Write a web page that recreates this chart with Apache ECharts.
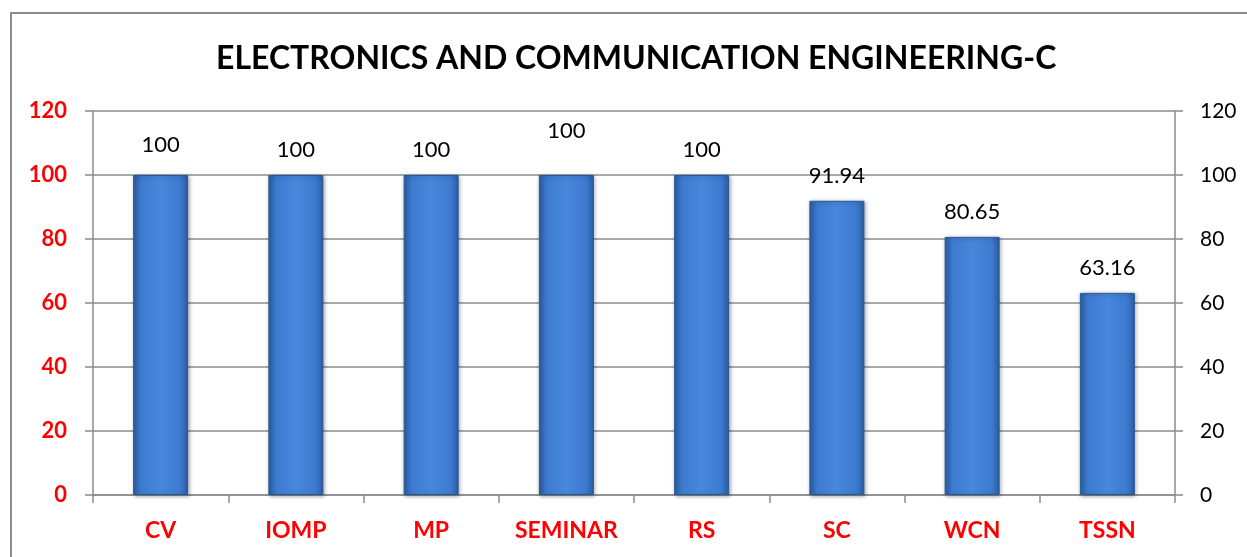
<!DOCTYPE html>
<html>
<head>
<meta charset="utf-8">
<script src="https://cdn.jsdelivr.net/npm/echarts@6/dist/echarts.min.js"></script>
<style>
  html, body { margin: 0; padding: 0; background: #fff; }
  #frame { position: absolute; left: 10px; top: 12px; width: 1300px; height: 600px; border: 2px solid #8c8c8c; box-sizing: border-box; }
  #chart { position: absolute; left: 0; top: 0; width: 1247px; height: 557px; }
</style>
</head>
<body>
<div id="frame"></div>
<div id="chart"></div>
<script>
const subjects = ['CV', 'IOMP', 'MP', 'SEMINAR', 'RS', 'SC', 'WCN', 'TSSN'];
const passPercent = [100, 100, 100, 100, 100, 91.94, 80.65, 63.16];
// extra lift of the value label, as placed in the original
const labelLift = [5, 0, 0, 19, 0, 0, 0, 0];

const FONT = 'Lato, "Open Sans", sans-serif';

const barColor = new echarts.graphic.LinearGradient(0, 0, 1, 0, [
  { offset: 0, color: '#2b5ea4' },
  { offset: 0.15, color: '#3d7bd0' },
  { offset: 0.5, color: '#4787dc' },
  { offset: 0.85, color: '#3d7bd0' },
  { offset: 1, color: '#2b5ea4' }
]);

const chart = echarts.init(document.getElementById('chart'));
chart.setOption({
  animation: false,
  title: {
    text: 'ELECTRONICS AND COMMUNICATION ENGINEERING-C',
    left: 211,
    top: 38,
    textStyle: { fontFamily: FONT, fontSize: 32, fontWeight: 'bold', color: '#000' }
  },
  grid: { left: 93, right: 72, top: 111, bottom: 62, containLabel: false },
  xAxis: {
    type: 'category',
    data: subjects,
    axisLine: { lineStyle: { color: '#8c8c8c', width: 1.5 } },
    axisTick: { show: true, length: 8, lineStyle: { color: '#8c8c8c', width: 1.5 } },
    axisLabel: { fontFamily: FONT, fontSize: 23, fontWeight: 'bold', color: '#ff0000', margin: 24 }
  },
  yAxis: [
    {
      type: 'value', min: 0, max: 120, interval: 20, position: 'left',
      axisLine: { show: true, lineStyle: { color: '#8c8c8c', width: 1.5 } },
      axisTick: { show: true, length: 8, lineStyle: { color: '#8c8c8c', width: 1.5 } },
      splitLine: { lineStyle: { color: '#8c8c8c', width: 1.5 } },
      axisLabel: { fontFamily: FONT, fontSize: 22, fontWeight: 'bold', color: '#ff0000', margin: 26 }
    },
    {
      type: 'value', min: 0, max: 120, interval: 20, position: 'right',
      axisLine: { show: true, lineStyle: { color: '#8c8c8c', width: 1.5 } },
      axisTick: { show: true, length: 8, lineStyle: { color: '#8c8c8c', width: 1.5 } },
      splitLine: { show: false },
      axisLabel: { fontFamily: FONT, fontSize: 21, color: '#000', margin: 25 }
    }
  ],
  series: [{
    type: 'bar',
    barWidth: 55,
    data: passPercent.map((v, i) => ({
      value: v,
      label: { offset: [0, -labelLift[i]] }
    })),
    itemStyle: {
      color: barColor,
      borderColor: '#2a5a9a',
      borderWidth: 1,
      shadowColor: 'rgba(0,0,0,0.35)',
      shadowBlur: 4,
      shadowOffsetX: 1,
      shadowOffsetY: 1
    },
    label: {
      show: true,
      position: 'top',
      distance: 14,
      fontFamily: FONT,
      fontSize: 22,
      color: '#000'
    }
  }]
});
</script>
</body>
</html>
